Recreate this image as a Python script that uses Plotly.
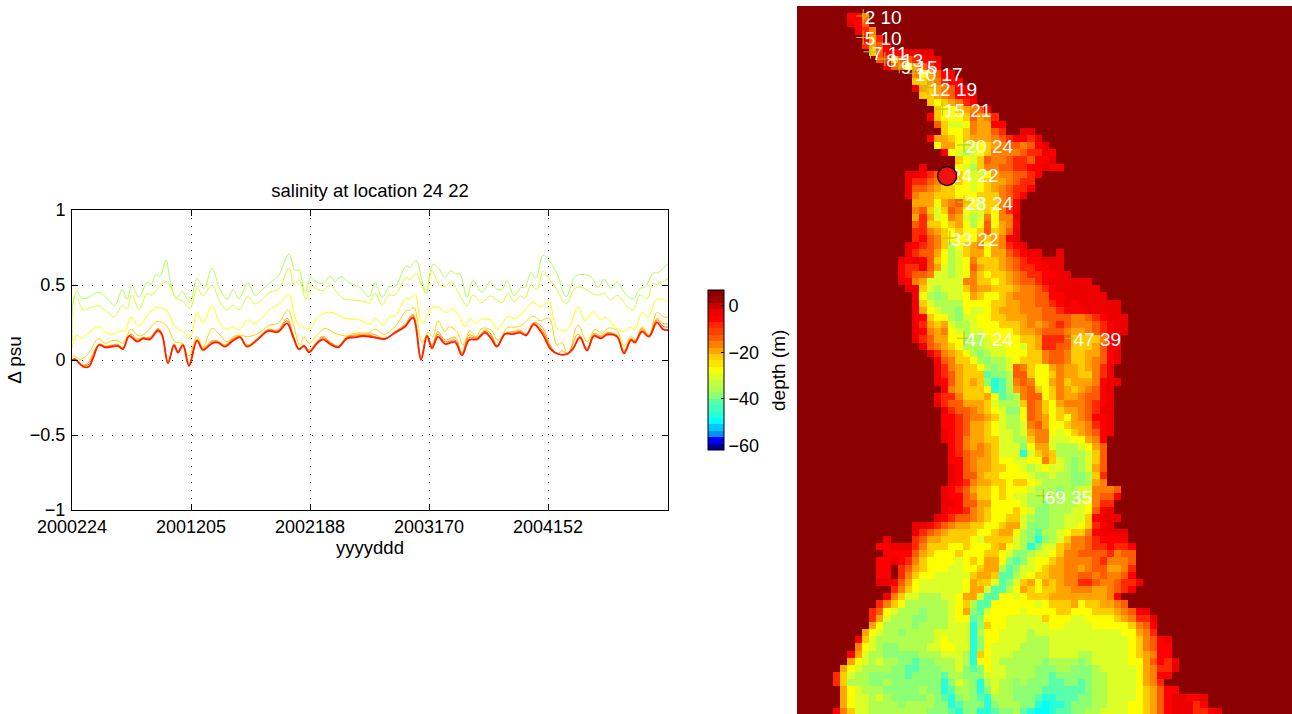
import plotly.graph_objects as go

FONT = "Liberation Sans, Arial, sans-serif"

# ---------- time series (x: sample index along the record, y: delta psu) ----------
TICK_POS = [0, 119, 238, 357, 476]
TICK_LABELS = ["2000224", "2001205", "2002188", "2003170", "2004152"]
Y_TICKS = [-1, -0.5, 0, 0.5, 1]
Y_LABELS = ["\u22121", "\u22120.5", "0", "0.5", "1"]

GREEN_X = [0,1,5,10,16,27,35,43,50,55,60,67,75,79,84,88,94,98,104,110,118,125,132,140,147,155,161,167,176,183,190,199,206,217,223,227,233,239,245,251,258,263,269,278,288,297,303,310,317,323,334,338,344,350,354,361,366,373,379,384,388,395,401,410,418,425,430,435,442,449,453,459,464,471,477,485,494,503,510,520,526,532,539,545,553,561,568,573,581,586,596]
GREEN_Y = [0.133,0.378,0.46,0.411,0.416,0.451,0.411,0.364,0.471,0.407,0.493,0.418,0.518,0.504,0.571,0.556,0.667,0.533,0.411,0.456,0.384,0.544,0.478,0.611,0.489,0.404,0.467,0.411,0.516,0.433,0.467,0.522,0.556,0.707,0.596,0.6,0.449,0.549,0.518,0.511,0.56,0.522,0.556,0.511,0.484,0.422,0.516,0.418,0.489,0.489,0.627,0.618,0.662,0.533,0.444,0.638,0.618,0.551,0.596,0.573,0.573,0.418,0.529,0.451,0.522,0.471,0.471,0.529,0.429,0.484,0.484,0.582,0.544,0.698,0.662,0.578,0.422,0.556,0.571,0.549,0.484,0.538,0.478,0.522,0.444,0.407,0.478,0.484,0.578,0.582,0.644]

LIME_X = [0,2,5,11,16,27,35,42,50,55,60,67,75,80,86,94,100,104,110,118,125,131,140,147,155,161,167,176,183,199,206,217,222,227,234,239,245,251,258,263,271,281,293,297,303,310,317,323,334,338,344,350,354,360,366,373,379,386,395,401,410,418,430,436,442,449,453,459,465,471,477,485,494,503,510,520,526,532,539,545,555,561,568,575,581,586,596]
LIME_Y = [0.122,0.411,0.411,0.333,0.344,0.36,0.322,0.289,0.36,0.344,0.433,0.338,0.442,0.433,0.478,0.522,0.467,0.411,0.396,0.344,0.478,0.429,0.5,0.4,0.333,0.367,0.333,0.422,0.373,0.456,0.467,0.611,0.5,0.533,0.404,0.493,0.471,0.462,0.5,0.467,0.411,0.4,0.389,0.378,0.444,0.367,0.433,0.433,0.549,0.538,0.578,0.489,0.444,0.6,0.511,0.489,0.522,0.456,0.36,0.433,0.382,0.427,0.382,0.444,0.389,0.427,0.411,0.5,0.471,0.591,0.544,0.467,0.373,0.478,0.484,0.444,0.433,0.444,0.4,0.433,0.36,0.333,0.433,0.407,0.511,0.504,0.544]

YELLOW_X = [0,5,10,16,27,35,42,50,53,59,67,75,84,94,103,110,118,125,131,140,147,155,161,167,176,183,199,206,217,222,227,238,245,255,263,273,288,298,303,311,317,323,334,338,343,350,361,367,374,380,386,393,398,404,410,419,425,436,442,450,461,468,477,485,495,506,513,521,528,534,541,551,558,563,570,576,585,596]
YELLOW_Y = [0.078,0.167,0.144,0.178,0.222,0.178,0.173,0.196,0.193,0.284,0.227,0.293,0.349,0.333,0.222,0.196,0.151,0.316,0.249,0.36,0.256,0.204,0.222,0.2,0.267,0.244,0.344,0.367,0.438,0.311,0.233,0.211,0.278,0.318,0.311,0.278,0.267,0.24,0.278,0.233,0.284,0.293,0.411,0.407,0.438,0.244,0.356,0.351,0.318,0.342,0.307,0.222,0.278,0.244,0.271,0.267,0.204,0.289,0.278,0.311,0.384,0.356,0.384,0.211,0.2,0.356,0.262,0.322,0.267,0.284,0.233,0.189,0.218,0.204,0.316,0.284,0.407,0.389]

GOLD_X = [0,3,8,15,27,33,40,46,51,59,67,75,85,94,103,110,117,125,131,140,147,155,161,168,175,185,198,206,216,221,228,232,237,246,253,263,275,283,298,303,312,323,334,338,342,350,356,361,366,373,377,385,391,398,404,410,419,426,436,443,450,461,468,477,485,490,496,506,515,523,530,536,545,552,559,564,570,577,585,591,596]
GOLD_Y = [0.027,0.027,0.004,0.033,0.144,0.111,0.129,0.129,0.111,0.204,0.16,0.189,0.256,0.233,0.122,0.111,0.027,0.156,0.084,0.211,0.173,0.122,0.156,0.167,0.156,0.173,0.233,0.244,0.333,0.244,0.1,0.156,0.111,0.173,0.211,0.178,0.16,0.178,0.184,0.207,0.171,0.222,0.327,0.333,0.351,0.116,0.184,0.156,0.262,0.189,0.222,0.189,0.1,0.196,0.156,0.211,0.2,0.133,0.218,0.218,0.233,0.293,0.262,0.278,0.1,0.116,0.033,0.233,0.122,0.204,0.178,0.213,0.196,0.093,0.156,0.133,0.222,0.167,0.318,0.289,0.284]

ORANGE_X = [0,3,8,15,27,33,40,46,51,59,65,71,78,86,90,96,102,106,111,117,125,131,140,146,153,161,168,175,185,196,206,215,221,227,232,237,245,251,258,266,275,283,298,303,313,323,333,341,349,355,360,366,373,383,390,397,405,413,419,425,433,441,448,454,462,471,478,486,490,496,506,515,522,529,535,545,552,559,563,570,577,585,591,596]
ORANGE_Y = [0,0.011,-0.027,-0.027,0.107,0.093,0.1,0.104,0.082,0.173,0.14,0.151,0.151,0.211,0.178,-0.011,0.107,0.062,0.107,-0.022,0.138,0.078,0.129,0.127,0.1,0.144,0.16,0.1,0.14,0.204,0.2,0.278,0.173,0.078,0.1,0.067,0.122,0.16,0.122,0.093,0.156,0.167,0.173,0.169,0.144,0.189,0.238,0.304,0.022,0.167,0.1,0.189,0.133,0.151,0.049,0.167,0.151,0.2,0.173,0.1,0.178,0.189,0.2,0.173,0.251,0.211,0.1,0.04,0.062,0.044,0.173,0.078,0.178,0.16,0.182,0.167,0.062,0.144,0.129,0.211,0.16,0.278,0.244,0.24]

EMBER_X = [0,3,8,16,27,33,40,46,51,58,65,71,78,86,90,96,102,106,111,117,125,131,140,146,153,161,168,175,185,196,206,215,221,227,232,237,245,251,258,266,275,283,298,303,313,323,333,341,349,355,360,366,373,383,390,397,405,413,419,425,433,441,448,454,462,471,478,486,495,501,508,515,522,529,535,545,552,559,563,570,577,585,591,596]
EMBER_Y = [-0.002,0.007,-0.033,-0.033,0.102,0.089,0.096,0.098,0.078,0.167,0.131,0.147,0.144,0.204,0.173,-0.016,0.102,0.056,0.102,-0.031,0.133,0.071,0.12,0.12,0.093,0.138,0.156,0.093,0.136,0.2,0.193,0.262,0.164,0.073,0.098,0.058,0.116,0.149,0.116,0.089,0.151,0.16,0.164,0.156,0.142,0.184,0.229,0.296,0.011,0.162,0.089,0.173,0.12,0.133,0.04,0.151,0.144,0.191,0.16,0.093,0.176,0.18,0.191,0.169,0.244,0.189,0.089,0.04,0.042,0.08,0.16,0.071,0.169,0.151,0.176,0.16,0.053,0.138,0.122,0.2,0.158,0.267,0.224,0.22]

RED_X = [0,3,6,11,17,21,27,33,40,46,51,57,65,71,78,86,90,96,102,106,111,117,125,131,140,146,153,161,168,175,185,196,206,215,221,227,232,237,245,251,258,266,275,283,291,298,303,313,323,333,341,349,355,360,366,373,383,390,397,405,413,419,425,433,441,448,454,462,471,478,486,495,501,508,515,522,529,535,545,552,559,563,570,577,585,591,596]
RED_Y = [-0.004,0.004,-0.011,-0.044,-0.044,0.011,0.1,0.084,0.089,0.093,0.073,0.16,0.122,0.142,0.138,0.196,0.167,-0.022,0.098,0.049,0.098,-0.04,0.129,0.067,0.111,0.116,0.089,0.129,0.151,0.089,0.133,0.193,0.187,0.244,0.156,0.071,0.093,0.051,0.111,0.138,0.107,0.084,0.144,0.151,0.16,0.155,0.149,0.14,0.182,0.222,0.282,0,0.16,0.078,0.156,0.107,0.12,0.031,0.133,0.138,0.182,0.144,0.089,0.173,0.173,0.182,0.164,0.238,0.167,0.078,0.04,0.04,0.076,0.149,0.062,0.16,0.144,0.169,0.156,0.044,0.133,0.116,0.189,0.156,0.251,0.204,0.2]

LINES = [
    (GREEN_X, GREEN_Y, "#B2FF50", 1),
    (LIME_X, LIME_Y, "#D8FF2B", 1),
    (YELLOW_X, YELLOW_Y, "#FFFF00", 1),
    (GOLD_X, GOLD_Y, "#FFD500", 1),
    (ORANGE_X, ORANGE_Y, "#FFAA00", 1),
    (EMBER_X, EMBER_Y, "#FF7000", 1),
    (RED_X, RED_Y, "#FF2000", 1.8),
]

# ---------- bathymetry: code letters per row, from ROW_START column onward; the rest is land ----------
N_COLS = 69
ROW_START = [0,7,7,8,9,9,10,11,12,16,16,16,17,18,19,18,19,20,18,19,20,22,17,15,15,15,15,16,16,16,16,16,16,15,15,14,14,14,14,15,16,16,16,16,16,16,16,17,18,19,19,19,19,20,19,19,20,20,20,20,20,21,21,21,21,21,21,20,20,20,20,19,16,16,12,11,12,11,11,11,11,13,12,11,10,10,10,9,8,8,7,7,6,5,5,6,6,6,5]
ROW_CELLS = [
"",
"bbe","abd","bce","bfc","cfdb","gdbbbaaaa","dcgddcbba","bdehfdcb","ehfdbb","ggfecbb","afgfedba","ggfedbba","ghgfecb","ghhgfedb",
"bghhhgdfec","dgiiheffbb","ghhgeffdc..aa","bffghgfffedcbbca","hffhiihgfeddedba","bhijihgeeeedccab","ghigdeedccdbba","a....hijgeeddccbbabb",
"aabcdefghiihfeeddcb","accdeghghihgffedcc","addefgghhihgfedccb","aeffggghhhgggedcb","fffhfedghiggedb","edgigdehiighecb","fcfihefijieheea",
"dcgghgfhjhdhfeb","ccefghghhgdgfda","cbdeghhhhfgfeba","abcdegjhgfehfecba","acddfhjigffhffdcbaa..a","ababdghjihegggfedcbbaaa","bccadfijihdfggfedccbbaa",
"bcddeiijiheghggfedccbbaa","abefiiiiieegghgfeddcbaaaaaa","aagijiiigeffgggfeedcbaaaaaa","ahjkjiihfghhgfeeeddbbaaaaaa","agijjjjhhhhggffeeddcbabaaaaaa",
"afhijjkhiihgfffeeeddcbbbaaaaa","abghhjkiihhggfffeeddddeedcbaaa","acfgfijjihhhgggfefedcdeeedcbaa","abefehijiihhhhgffedddeffedcbaa","acdffhhjjjihhhhggfcccdggggeba",
"adefghjjjiiihhigfccddgggfdba","acefghjkjiihhhggeddeggffdba","bdegghjkjjihgggeddeggfedba","acefgghjkjideghhfeffgfeca","acdfggglkkjddghhgeffggeca",
"abdfgfgkmljedehhfegfffebaa","befggghmljfedghgefgfedba","bccegggfhlkjeddhgeffeddba","acddfffgijjjgdeghfeeedcba","acddefghikkhdeghgffedcaa",
"bbcdeefgijjhdefhghfedbba","bbcdffghijjiedfhhgffecba","abcdffghiijifeehihgfedba","abceffggiijjgeeiiihhfeb","bcefefgiiikhffijjjihfd",
"bcdeefgiiimigfgjjjjigd","bbdeffghhiihhegijkjigd","abdeffgghhijihiijkjifd","abddfgghhhhijjijjkkjgc","abceffgghgghijjjjkkjfe",
"abcdfgghghhhijjjkjjiieeed","abbdegghghiijjjjjjjjieddb","aabddffhhhhijjkjjjjihecc","abbcefghhhghikkjjjiihdba","abcddefghhggijkkjjiiigbaaa",
"aabcdeffgghhgffikkkjjiihgcba","acdefgggghhgffhjkljjihggebaaaa","a...cdffgggghiggggijkmkjigeedcbbbb","bbaaaceggghhghhhgfhijmkiigfeedccbccb",
"bbbbdfghhhghhhgghikkjiihgeeddddcedd","bbabceghhhhihghffhklkihhgfeeeedceeed","bb.cdfghhhiihhgffjlkiihgffeefeddffec","bb.ceghhiiiiigffglljihggffeeddedeedb",
"aabdfhiiiiiihfggilkigfhfgfeeccdeedcca","ceghiiiiiihffilljhfghggffeeeffedcb","aegiijjjiihffillhhihgggffffffffeb","ceghjjjjjjihgjllhhhhhhihgggfhggffed",
"cdhijjjkjjjihfklihhhhihhhhgghhhgggfedba","cfijjjkkjjjihhlkhhhiiiiighhhiihhhhgfecca","fhjjjjkjjjjiiimkghhiiiiiihhiiiihhhhhgedb","fhijjkjjjjiiiiimjhhiiiijiiiiiiiiiiiihhfec",
"bgijjjjjjjjihiiimkhhiiiijjjiiiiiiiiiiihgedba","ehijkkjjjjiihhiimkhiiiijjjjiiiiiiiiiiihgedbb","bfijjkkkkkjjjiiijmghiiijjjjjiiiijjiiiiihgfebb",
"fhijijjkklkkjjjijmhhijjjjjjkjjjjkjiiiiihhfdbca","fhijjjjkkllkkkjjiklkhiijjjjkkkjjkkkjiiiiihfecca","cgijjkkkkklkkkkljjkkkiiijjjjkklkkkkkjjiiiihfebb",
"cgjjjkkjkkkkkkkmkijkmjijjkjkkkllkklkjjiiiihfec","fhijjjkkkkkjkkmljjkmkijjkkkkllllllkjjiiiihgfdbb","fhiijijkkkkkjklmkjklmjjjkkklmmlllkkjjiiiihgfdbaabba",
"fhiijjjjkjjjjkkmlkkkmkjjjkkmnmmlkkkjjiiihhgfdbaaacb","begiijjjjjjjjkkklmkkmmlkkjlmnnmllkkjjiiiihhgfdbaaaccba",
]
DEPTH_OF_CODE = {".": 5.3, "a": -2.9, "b": -5.6, "c": -8.4, "d": -13.9, "e": -16.6, "f": -19.4, "g": -22.1,
                 "h": -27.6, "i": -30.3, "j": -35.8, "k": -38.5, "l": -41.3, "m": -46.8, "n": -49.5}

BAND_COLORS = ["#8B0000","#A00000","#C80000","#EC0000","#FF0000","#FF2800","#FF4000","#FF5C00","#FF8000","#FFA400",
               "#FFCC00","#FFE400","#FFFF00","#DCFF28","#C0FF40","#B0FF50","#8CFF74","#58FFA8","#40FFC0","#28FFD8",
               "#00FFFF","#00C8FF","#0090FF","#0000FF","#000090"]
DEPTH_MAX, DEPTH_MIN = 6.7, -61.9
CBAR_TICKS = [0, -20, -40, -60]
CBAR_LABELS = ["0", "\u221220", "\u221240", "\u221260"]

# ---------- labelled stations (row, column) ----------
STATION_ROW = [2, 5, 7, 8, 9, 10, 12, 15, 20, 24, 28, 33, 47, 47, 69]
STATION_COL = [10, 10, 11, 13, 15, 17, 19, 21, 24, 22, 24, 22, 24, 39, 35]
STATION_TEXT = ["2 10","5 10","7 11","8 13","9 15","10 17","12 19","15 21","20 24","24 22","28 24","33 22","47 24","47 39","69 35"]
SELECTED_ROW, SELECTED_COL = 24.35, 21.65

depth = []
for start, cells in zip(ROW_START, ROW_CELLS):
    row = "." * start + cells
    row = row + "." * (N_COLS - len(row))
    depth.append([DEPTH_OF_CODE[c] for c in row])

nb = len(BAND_COLORS)
# colorscale runs low -> high, the band list top -> bottom
colorscale = []
for i, col in enumerate(BAND_COLORS[::-1]):
    colorscale += [[i / nb, col], [(i + 1) / nb, col]]

W, H = 1292, 714
fig = go.Figure()

for xs, ys, col, w in LINES:
    fig.add_trace(go.Scatter(x=xs, y=ys, mode="lines", line=dict(color=col, width=w, shape="spline", smoothing=1.0),
                             xaxis="x", yaxis="y", showlegend=False, hoverinfo="skip"))

fig.add_trace(go.Heatmap(
    z=depth, x=[c + 1.3 for c in range(N_COLS)], y=[r + 1.1 for r in range(len(depth))],
    xaxis="x2", yaxis="y2", zmin=DEPTH_MIN, zmax=DEPTH_MAX, colorscale=colorscale, zsmooth=False,
    colorbar=dict(
        x=708 / W, xanchor="left", xpad=0, y=1 - 370 / H, yanchor="middle", ypad=0,
        thickness=16, thicknessmode="pixels", len=160, lenmode="pixels",
        outlinecolor="black", outlinewidth=1, tickmode="array", tickvals=CBAR_TICKS, ticktext=CBAR_LABELS,
        ticks="inside", ticklen=3, tickcolor="black", tickfont=dict(family=FONT, size=18, color="black"),
    ),
))

fig.add_trace(go.Scatter(x=STATION_COL, y=STATION_ROW, mode="markers", xaxis="x2", yaxis="y2", showlegend=False,
                         marker=dict(symbol="cross-thin-open", size=10, line=dict(color="white", width=1))))
fig.add_trace(go.Scatter(x=[c + 0.2 for c in STATION_COL], y=[r + 0.45 for r in STATION_ROW], mode="text",
                         text=STATION_TEXT, textposition="middle right", xaxis="x2", yaxis="y2", showlegend=False,
                         textfont=dict(family=FONT, size=19, color="white")))
fig.add_trace(go.Scatter(x=[SELECTED_COL], y=[SELECTED_ROW], mode="markers", xaxis="x2", yaxis="y2", showlegend=False,
                         marker=dict(symbol="circle", size=19, color="#F01010", line=dict(color="black", width=1.3))))

axis_font = dict(family=FONT, size=18, color="black")
label_font = dict(family=FONT, size=18.5, color="black")
fig.update_layout(
    template="none", width=W, height=H, autosize=False,
    margin=dict(l=0, r=0, t=0, b=0, pad=0), paper_bgcolor="white", plot_bgcolor="white", showlegend=False,
    title=dict(text="salinity at location 24 22", x=370 / W, xanchor="center", xref="paper",
               y=1 - 191 / H, yanchor="middle", yref="paper", font=label_font),
    xaxis=dict(domain=[72 / W, 668 / W], range=[0, 596], tickmode="array", tickvals=TICK_POS, ticktext=TICK_LABELS,
               ticks="inside", ticklen=6, tickcolor="black", mirror="ticks", showline=True, linecolor="black", linewidth=1,
               showgrid=True, gridcolor="black", griddash="1px,7px", gridwidth=1, zeroline=False, automargin=False,
               tickfont=axis_font, title=dict(text="yyyyddd", standoff=5, font=label_font)),
    yaxis=dict(domain=[1 - 510 / H, 1 - 210 / H], range=[-1, 1], tickmode="array", tickvals=Y_TICKS, ticktext=Y_LABELS,
               ticks="inside", ticklen=6, tickcolor="black", mirror="ticks", showline=True, linecolor="black", linewidth=1,
               ticklabelstandoff=2,
               showgrid=True, gridcolor="black", griddash="1px,9px", gridwidth=1, zeroline=False, automargin=False,
               tickfont=axis_font, title=dict(text="\u0394 psu", standoff=3, font=dict(family=FONT, size=19, color="black"))),
    xaxis2=dict(domain=[797 / W, 1], range=[0.8, 69.55], visible=False, anchor="y2"),
    yaxis2=dict(domain=[0, 1 - 6 / H], range=[99.48, 0.6], visible=False, anchor="x2"),
    annotations=[dict(text="depth (m)", xref="paper", yref="paper", x=778 / W, y=1 - 371 / H, showarrow=False,
                      textangle=-90, xanchor="center", yanchor="middle", font=dict(family=FONT, size=19, color="black"))],
)

fig.write_html("out.html", config=dict(displayModeBar=False),
               post_script="document.body.style.margin='0';document.body.style.overflow='hidden';")
